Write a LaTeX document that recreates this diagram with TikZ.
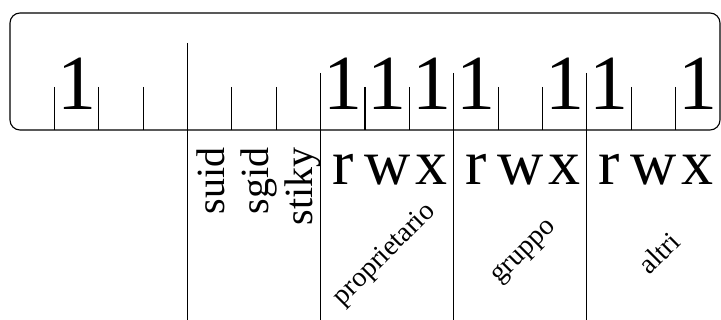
\documentclass[tikz,border=0pt]{standalone}
\usepackage{fontspec}
\setmainfont{Liberation Serif}
\begin{document}
\begin{tikzpicture}[x=1pt,y=-1pt,line width=1.1pt,
  bit/.style={font=\fontsize{78}{78}\selectfont,inner sep=0pt,anchor=base},
  perm/.style={font=\fontsize{64}{64}\selectfont,inner sep=0pt,anchor=base},
  special/.style={font=\fontsize{40}{40}\selectfont,inner sep=0pt,rotate=90,anchor=base east},
  who/.style={font=\fontsize{28}{28}\selectfont,inner sep=0pt,rotate=45}]
  \useasboundingbox (0,0) rectangle (721,320);

  \draw[rounded corners=10pt] (10,13) rectangle (720,130);

  % ticks under the bits
  \foreach \k in {1,2,3,5,6,8,9,11,12,14,15}
    \draw (10+44.375*\k,87) -- (10+44.375*\k,130);
  \draw (10+44.375*4,43) -- (10+44.375*4,320);
  \foreach \k in {7,10,13}
    \draw (10+44.375*\k,73) -- (10+44.375*\k,320);

  % bits set
  \foreach \k in {1,7,8,9,10,12,13,15}
    \node[bit] (b\k) at (32.19+44.375*\k,110) {1};

  % permissions
  \foreach \k/\t in {7/r,8/w,9/x,10/r,11/w,12/x,13/r,14/w,15/x}
    \node[perm] (p\k) at (32.19+44.375*\k,185) {\t};

  \node[special] (suid) at (224,147) {suid};
  \node[special] (sgid) at (268,147) {sgid};
  \node[special] (stiky) at (312,147) {stiky};

  \node[who] (owner) at (385,255) {proprietario};
  \node[who] (group) at (525,253) {gruppo};
  \node[who] (others) at (659,253) {altri};
\end{tikzpicture}
\end{document}
